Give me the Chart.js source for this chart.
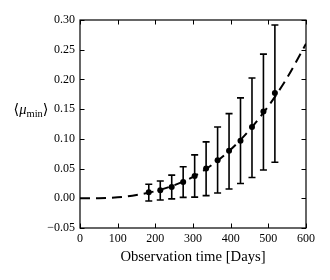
<!DOCTYPE html>
<html>
<head>
<meta charset="utf-8">
<script src="https://cdn.jsdelivr.net/npm/chart.js@4/dist/chart.umd.min.js"></script>
<style>
  html, body { margin: 0; padding: 0; background: #fff; }
</style>
</head>
<body>
<canvas id="chart" width="330" height="280"></canvas>
<script>
// Observation time of each measurement [days]
const obsDays = [182.6, 213.1, 243.5, 273.9, 304.4, 334.8, 365.3, 395.7, 426.1, 456.6, 487.0, 517.4];
// mean <mu_min> and the ends of its error bar
const muMean = [0.010, 0.0135, 0.019, 0.0275, 0.0375, 0.050, 0.064, 0.080, 0.097, 0.120, 0.146, 0.177];
const muHigh = [0.0235, 0.029, 0.039, 0.053, 0.073, 0.095, 0.120, 0.1425, 0.169, 0.2025, 0.2425, 0.2915];
const muLow = [-0.0045, -0.003, -0.001, 0.0015, 0.002, 0.0045, 0.009, 0.0157, 0.025, 0.035, 0.0477, 0.0606];

// dashed model curve
const modelDays = [0, 50, 100, 150, 200, 250, 300, 350, 400, 450, 500, 550, 600];
const modelMu = [0, 0.0002, 0.0017, 0.0055, 0.012, 0.022, 0.036, 0.056, 0.082, 0.115, 0.155, 0.203, 0.26];

const xTicks = [0, 100, 200, 300, 400, 500, 600];
const yTicks = [-0.05, 0.00, 0.05, 0.10, 0.15, 0.20, 0.25, 0.30];

const SERIF = '"Liberation Serif", "DejaVu Serif", serif';

// error bars, drawn under the markers
const errorBars = {
  id: 'errorBars',
  beforeDatasetsDraw(chart) {
    const { ctx, scales: { x, y } } = chart;
    ctx.save();
    ctx.strokeStyle = '#000';
    ctx.lineWidth = 1.6;
    obsDays.forEach((d, i) => {
      const px = x.getPixelForValue(d);
      const top = y.getPixelForValue(muHigh[i]);
      const bot = y.getPixelForValue(muLow[i]);
      ctx.beginPath();
      ctx.moveTo(px, top); ctx.lineTo(px, bot);
      ctx.moveTo(px - 3.5, top); ctx.lineTo(px + 3.5, top);
      ctx.moveTo(px - 3.5, bot); ctx.lineTo(px + 3.5, bot);
      ctx.stroke();
    });
    ctx.restore();
  }
};

// box frame, inward ticks on all sides, and the y label
const frame = {
  id: 'frame',
  afterDraw(chart) {
    const { ctx, chartArea: a, scales: { x, y } } = chart;
    ctx.save();
    ctx.strokeStyle = '#000';
    ctx.lineWidth = 1.2;
    ctx.strokeRect(a.left, a.top, a.right - a.left, a.bottom - a.top);
    const tl = 4.5;
    ctx.beginPath();
    xTicks.forEach(v => {
      const px = Math.round(x.getPixelForValue(v)) + 0.5;
      ctx.moveTo(px, a.bottom); ctx.lineTo(px, a.bottom - tl);
      ctx.moveTo(px, a.top); ctx.lineTo(px, a.top + tl);
    });
    yTicks.forEach(v => {
      const py = Math.round(y.getPixelForValue(v)) + 0.5;
      ctx.moveTo(a.left, py); ctx.lineTo(a.left + tl, py);
      ctx.moveTo(a.right, py); ctx.lineTo(a.right - tl, py);
    });
    ctx.lineWidth = 1;
    ctx.stroke();

    // <mu_min>
    ctx.fillStyle = '#000';
    ctx.textBaseline = 'alphabetic';
    const parts = [
      { t: '\u27E8', f: '14.5px ' + SERIF, dy: 0 },
      { t: '\u03BC', f: 'italic 14.5px ' + SERIF, dy: 0 },
      { t: 'min', f: '10.5px ' + SERIF, dy: 3 },
      { t: '\u27E9', f: '14.5px ' + SERIF, dy: 0 }
    ];
    let w = 0;
    parts.forEach(p => { ctx.font = p.f; p.w = ctx.measureText(p.t).width; w += p.w; });
    let cx = 31 - w / 2;
    const base = 114;
    parts.forEach(p => {
      ctx.font = p.f;
      ctx.fillText(p.t, cx, base + p.dy);
      cx += p.w;
    });
    ctx.restore();
  }
};

new Chart(document.getElementById('chart'), {
  type: 'line',
  data: {
    datasets: [
      {
        label: 'model',
        data: modelDays.map((d, i) => ({ x: d, y: modelMu[i] })),
        borderColor: '#000',
        borderWidth: 2,
        borderDash: [10, 6],
        pointRadius: 0,
        cubicInterpolationMode: 'monotone',
        fill: false
      },
      {
        label: 'measured',
        data: obsDays.map((d, i) => ({ x: d, y: muMean[i] })),
        showLine: false,
        pointRadius: 3,
        pointBackgroundColor: '#000',
        pointBorderColor: '#000',
        pointBorderWidth: 0
      }
    ]
  },
  options: {
    responsive: false,
    animation: false,
    layout: { padding: { top: 20, right: 24, left: 0, bottom: 0 } },
    plugins: { legend: { display: false }, tooltip: { enabled: false } },
    scales: {
      x: {
        type: 'linear',
        min: 0,
        max: 600,
        afterBuildTicks: s => { s.ticks = xTicks.map(v => ({ value: v })); },
        afterFit: s => { s.height = 52; },
        grid: { display: false, drawTicks: false },
        border: { display: false },
        ticks: {
          color: '#000',
          padding: 4,
          maxRotation: 0,
          font: { family: SERIF, size: 12 },
          callback: v => String(v)
        },
        title: {
          display: true,
          text: 'Observation time [Days]',
          color: '#000',
          font: { family: SERIF, size: 14.7 },
          padding: { top: 0, bottom: 14 }
        }
      },
      y: {
        type: 'linear',
        min: -0.05,
        max: 0.30,
        afterBuildTicks: s => { s.ticks = yTicks.map(v => ({ value: v })); },
        afterFit: s => { s.width = 80; },
        grid: { display: false, drawTicks: false },
        border: { display: false },
        ticks: {
          color: '#000',
          padding: 5,
          font: { family: SERIF, size: 12 },
          callback: v => (v < 0 ? '\u2212' : '') + Math.abs(v).toFixed(2)
        }
      }
    }
  },
  plugins: [errorBars, frame]
});
</script>
</body>
</html>
